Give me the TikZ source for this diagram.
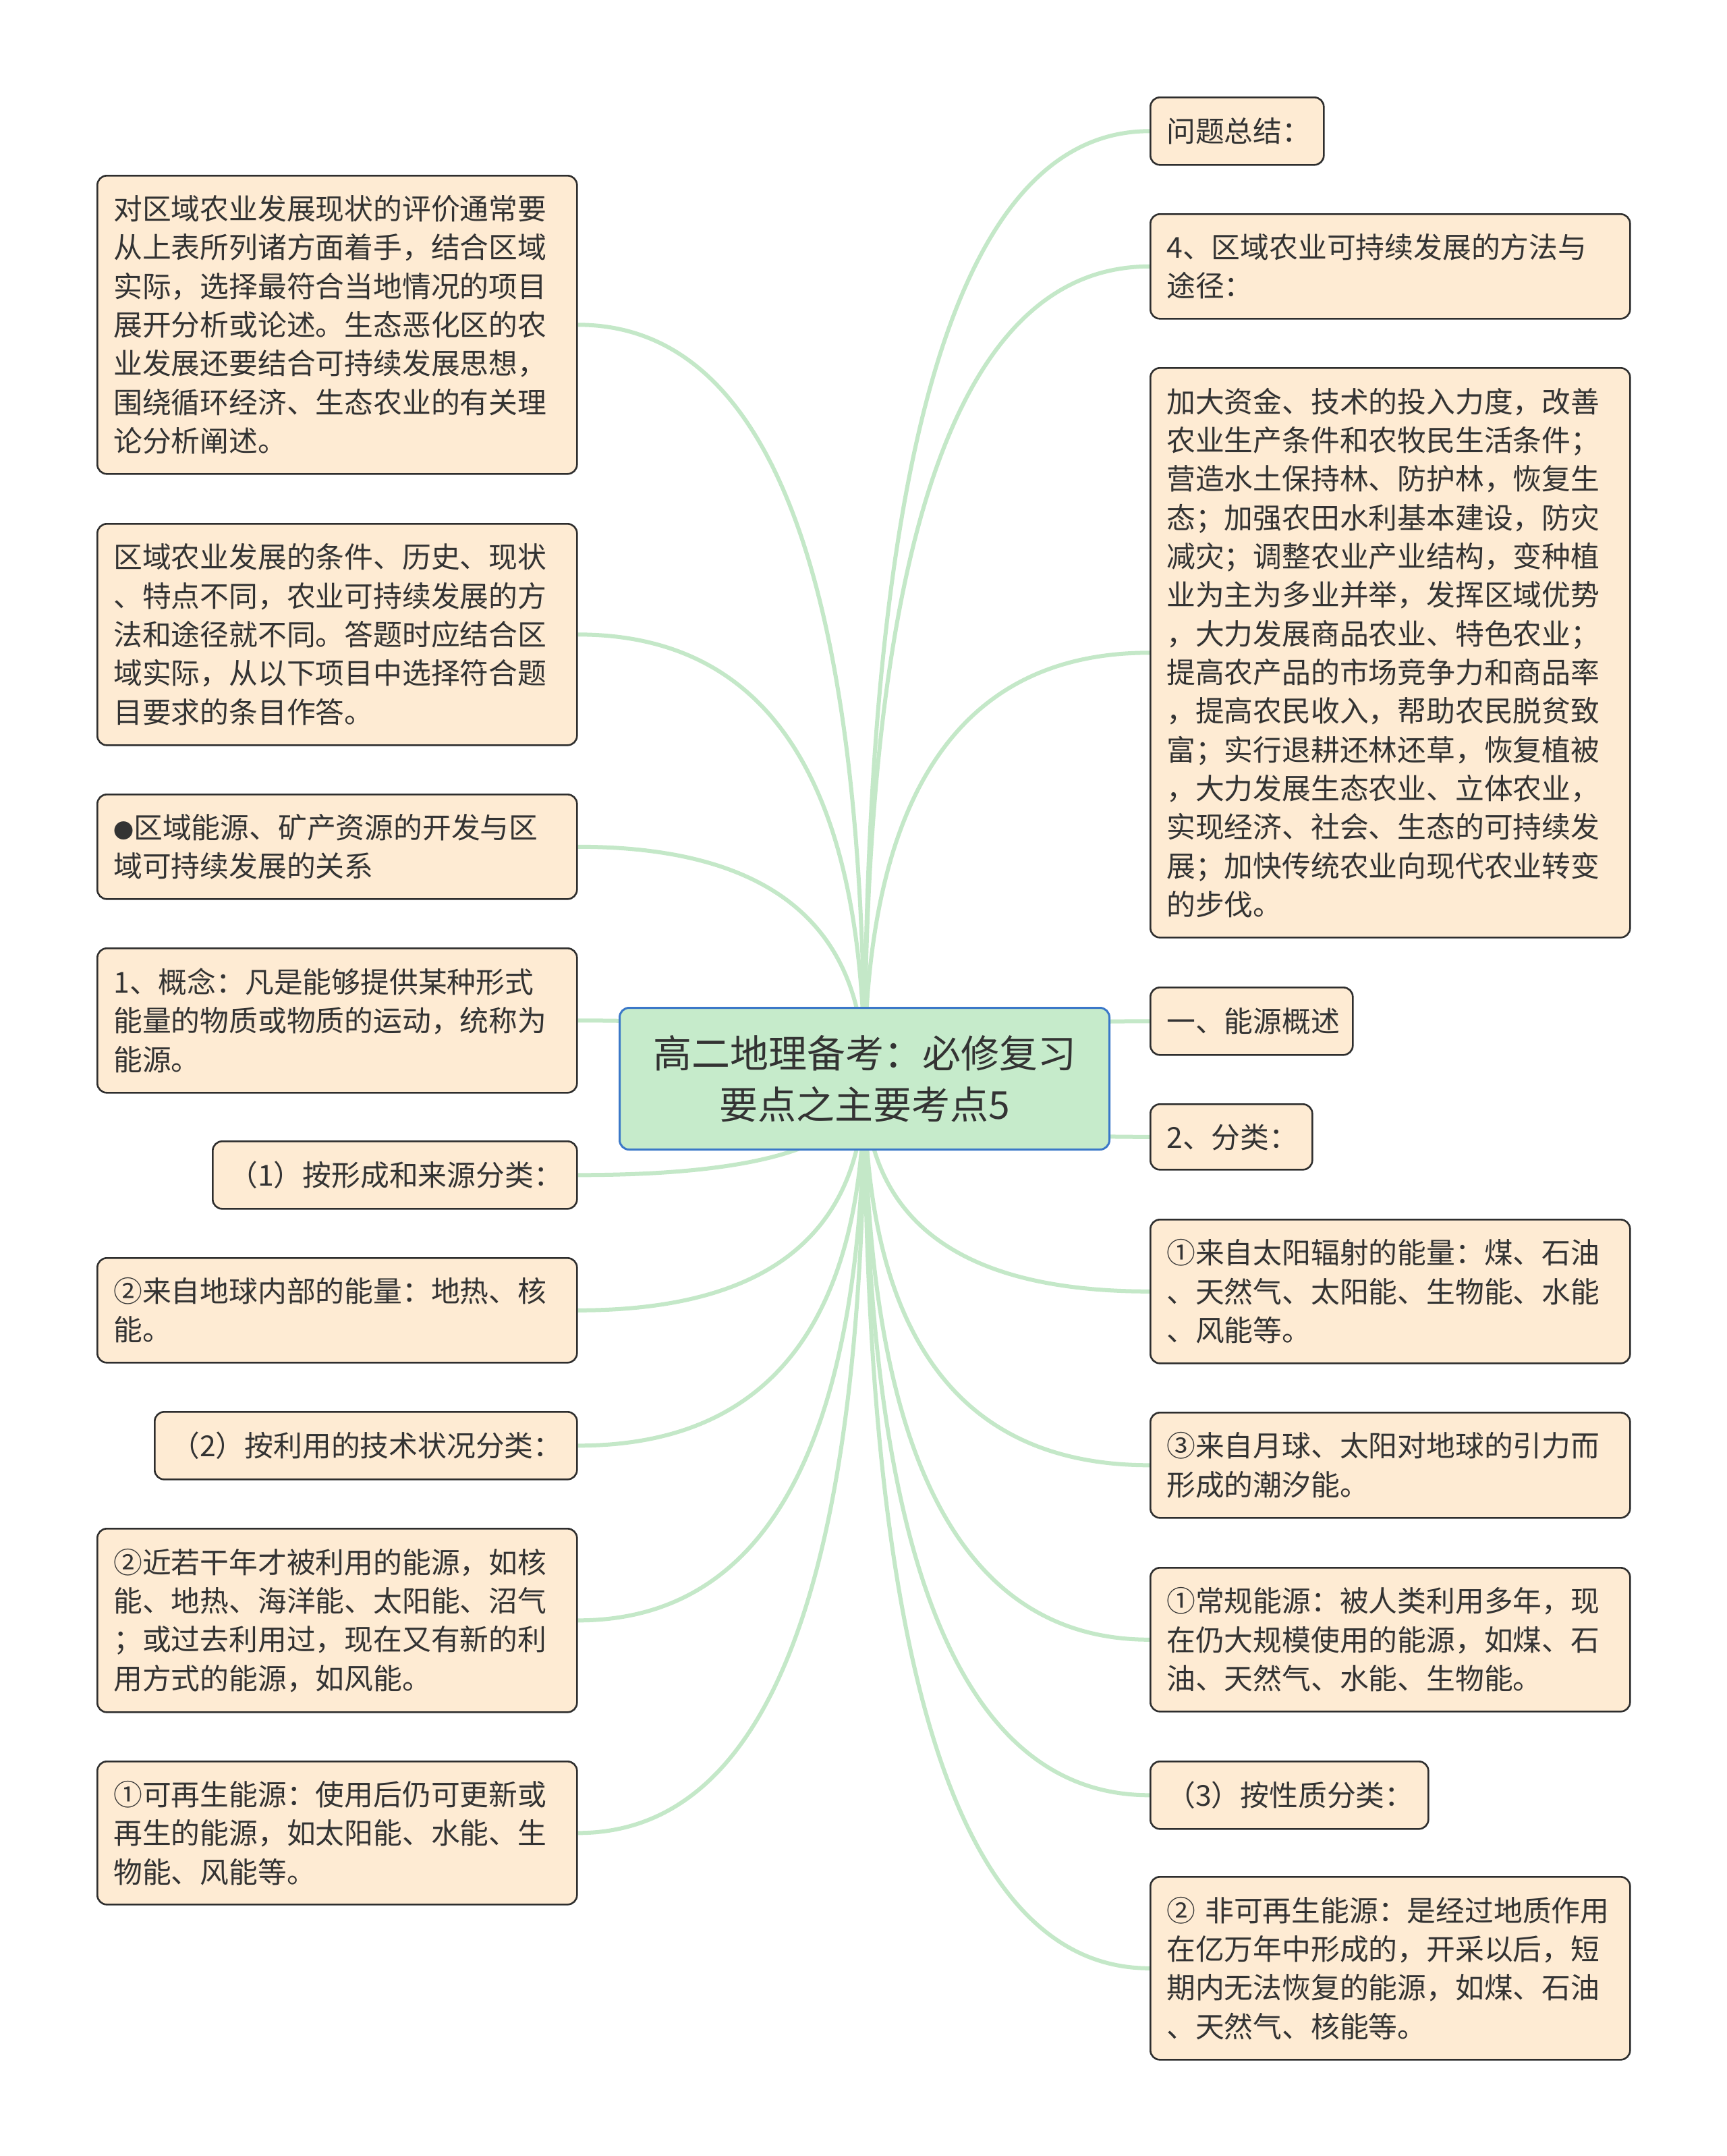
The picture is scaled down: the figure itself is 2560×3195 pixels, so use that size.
\documentclass[tikz,border=0pt]{standalone}
\usepackage{fontspec}
\setmainfont{Noto Sans CJK SC}
\usetikzlibrary{calc}
\pgfdeclarelayer{bg}
\pgfsetlayers{bg,main}
\definecolor{boxfill}{HTML}{FEEBD3}
\definecolor{boxline}{HTML}{2E2E2E}
\definecolor{rootfill}{HTML}{C6EBCB}
\definecolor{rootline}{HTML}{3B78C8}
\definecolor{linkc}{HTML}{C4E8C8}
\definecolor{txt}{HTML}{333333}
\begin{document}
\begin{tikzpicture}[x=0.25pt,y=-0.25pt,
  leaf/.style={draw=boxline, line width=0.65pt, fill=boxfill, rounded corners=3.5pt,
    anchor=north west, inner xsep=6pt, inner ysep=0pt, text=txt, align=left,
    font=\fontsize{10.7pt}{14.33pt}\selectfont},
  wide/.style={leaf, text width=165.75pt},
  root/.style={draw=rootline, line width=0.75pt, fill=rootfill, rounded corners=3.5pt,
    anchor=north west, inner xsep=5.75pt, inner ysep=0pt, text=txt, align=center,
    text width=170pt, minimum height=52.5pt,
    font=\fontsize{14.25pt}{18.9pt}\selectfont},
  link/.style={draw=linkc, line width=1.5pt}]
\useasboundingbox (0,0) rectangle (2560,3195);

% root
\node[root] (C) at (917,1492) {高二地理备考：必修复习\\要点之主要考点5};

% left side
\node[wide, minimum height=110.5pt] (L1) at (143,259) {对区域农业发展现状的评价通常要\\从上表所列诸方面着手，结合区域\\实际，选择最符合当地情况的项目\\展开分析或论述。生态恶化区的农\\业发展还要结合可持续发展思想，\\围绕循环经济、生态农业的有关理\\论分析阐述。};
\node[wide, minimum height=82pt] (L2) at (143,775) {区域农业发展的条件、历史、现状\\、特点不同，农业可持续发展的方\\法和途径就不同。答题时应结合区\\域实际，从以下项目中选择符合题\\目要求的条目作答。};
\node[wide, minimum height=38.75pt] (L3) at (143,1176) {{\fontsize{7.5pt}{14.33pt}\selectfont ●}区域能源、矿产资源的开发与区\\域可持续发展的关系};
\node[wide, minimum height=53.5pt] (L4) at (143,1404) {1、概念：凡是能够提供某种形式\\能量的物质或物质的运动，统称为\\能源。};
\node[leaf, text width=123pt, minimum height=25pt] (L5) at (314,1690) {（1）按形成和来源分类：};
\node[wide, minimum height=38.75pt] (L6) at (143,1863) {②来自地球内部的能量：地热、核\\能。};
\node[leaf, text width=144.5pt, minimum height=25pt] (L7) at (228,2091) {（2）按利用的技术状况分类：};
\node[wide, minimum height=68pt] (L8) at (143,2264) {②近若干年才被利用的能源，如核\\能、地热、海洋能、太阳能、沼气\\；或过去利用过，现在又有新的利\\用方式的能源，如风能。};
\node[wide, minimum height=53pt] (L9) at (143,2609) {①可再生能源：使用后仍可更新或\\再生的能源，如太阳能、水能、生\\物能、风能等。};

% right side
\node[leaf, text width=52.25pt, minimum height=25pt] (R1) at (1704,143) {问题总结：};
\node[wide, minimum height=38.75pt] (R2) at (1704,316) {4、区域农业可持续发展的方法与\\途径：};
\node[wide, minimum height=211pt] (R3) at (1704,544) {加大资金、技术的投入力度，改善\\农业生产条件和农牧民生活条件；\\营造水土保持林、防护林，恢复生\\态；加强农田水利基本建设，防灾\\减灾；调整农业产业结构，变种植\\业为主为多业并举，发挥区域优势\\，大力发展商品农业、特色农业；\\提高农产品的市场竞争力和商品率\\，提高农民收入，帮助农民脱贫致\\富；实行退耕还林还草，恢复植被\\，大力发展生态农业、立体农业，\\实现经济、社会、生态的可持续发\\展；加快传统农业向现代农业转变\\的步伐。};
\node[leaf, text width=63pt, minimum height=25pt] (R4) at (1704,1462) {一、能源概述};
\node[leaf, text width=48pt, minimum height=24.25pt] (R5) at (1704,1635) {2、分类：};
\node[wide, minimum height=53.25pt] (R6) at (1704,1806) {①来自太阳辐射的能量：煤、石油\\、天然气、太阳能、生物能、水能\\、风能等。};
\node[wide, minimum height=39pt] (R7) at (1704,2092) {③来自月球、太阳对地球的引力而\\形成的潮汐能。};
\node[wide, minimum height=53.25pt] (R8) at (1704,2322) {①常规能源：被人类利用多年，现\\在仍大规模使用的能源，如煤、石\\油、天然气、水能、生物能。};
\node[leaf, text width=91pt, minimum height=25pt] (R9) at (1704,2609) {（3）按性质分类：};
\node[wide, minimum height=67.75pt] (R10) at (1704,2780) {②~非可再生能源：是经过地质作用\\在亿万年中形成的，开采以后，短\\期内无法恢复的能源，如煤、石油\\、天然气、核能等。};

% connectors
\begin{pgfonlayer}{bg}
\fill[white] (0,0) rectangle (2560,3195);
\foreach \n in {L1,L2,L3,L4,L5,L6,L7,L8,L9} {
  \coordinate (k\n) at (C.center |- \n.east);
  \draw[link] (C.center) .. controls ($(C.center)!0.6667!(k\n)$) and ($(\n.east)!0.6667!(k\n)$) .. (\n.east);
}
\foreach \n in {R1,R2,R3,R4,R5,R6,R7,R8,R9,R10} {
  \coordinate (k\n) at (C.center |- \n.west);
  \draw[link] (C.center) .. controls ($(C.center)!0.6667!(k\n)$) and ($(\n.west)!0.6667!(k\n)$) .. (\n.west);
}
\end{pgfonlayer}
\end{tikzpicture}
\end{document}
